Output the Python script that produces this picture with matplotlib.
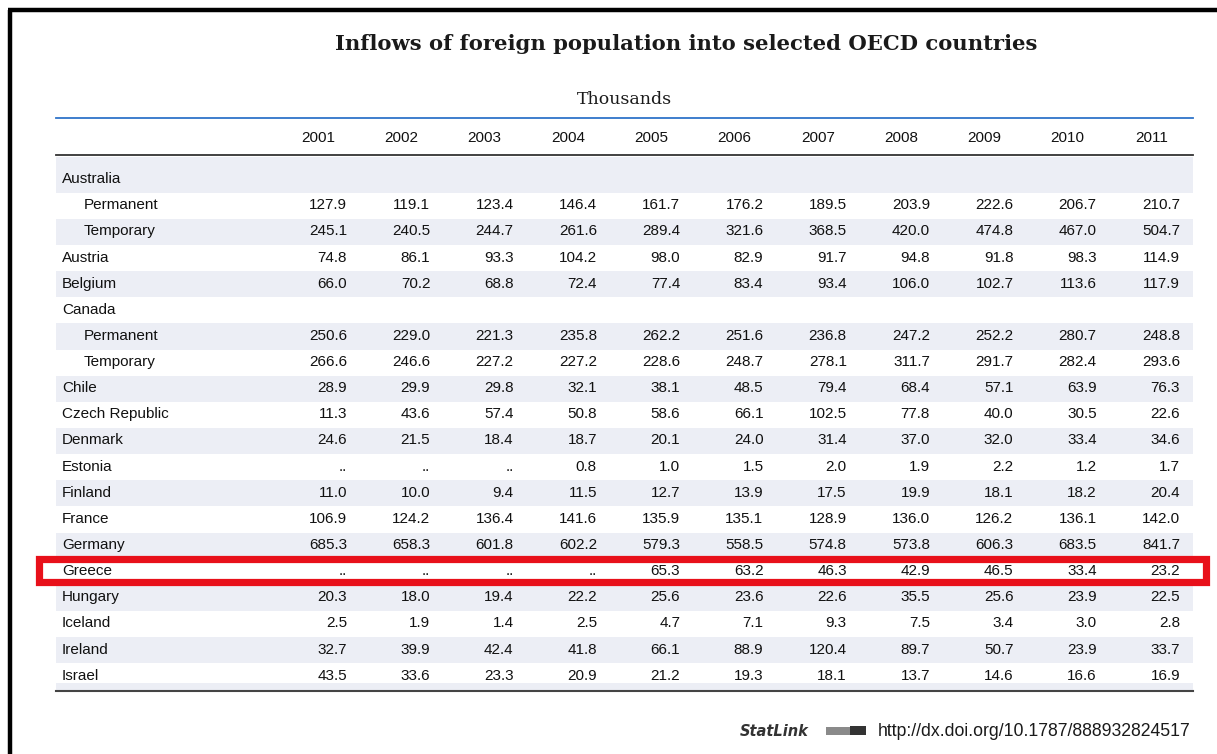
import matplotlib
matplotlib.use("Agg")
from matplotlib import pyplot as plt
from matplotlib.patches import Rectangle

# --- data (thousands) ---
years = [2001, 2002, 2003, 2004, 2005, 2006, 2007, 2008, 2009, 2010, 2011]

aus_perm = [127.9, 119.1, 123.4, 146.4, 161.7, 176.2, 189.5, 203.9, 222.6, 206.7, 210.7]
aus_temp = [245.1, 240.5, 244.7, 261.6, 289.4, 321.6, 368.5, 420.0, 474.8, 467.0, 504.7]
austria = [74.8, 86.1, 93.3, 104.2, 98.0, 82.9, 91.7, 94.8, 91.8, 98.3, 114.9]
belgium = [66.0, 70.2, 68.8, 72.4, 77.4, 83.4, 93.4, 106.0, 102.7, 113.6, 117.9]
can_perm = [250.6, 229.0, 221.3, 235.8, 262.2, 251.6, 236.8, 247.2, 252.2, 280.7, 248.8]
can_temp = [266.6, 246.6, 227.2, 227.2, 228.6, 248.7, 278.1, 311.7, 291.7, 282.4, 293.6]
chile = [28.9, 29.9, 29.8, 32.1, 38.1, 48.5, 79.4, 68.4, 57.1, 63.9, 76.3]
czech = [11.3, 43.6, 57.4, 50.8, 58.6, 66.1, 102.5, 77.8, 40.0, 30.5, 22.6]
denmark = [24.6, 21.5, 18.4, 18.7, 20.1, 24.0, 31.4, 37.0, 32.0, 33.4, 34.6]
estonia = [None, None, None, 0.8, 1.0, 1.5, 2.0, 1.9, 2.2, 1.2, 1.7]
finland = [11.0, 10.0, 9.4, 11.5, 12.7, 13.9, 17.5, 19.9, 18.1, 18.2, 20.4]
france = [106.9, 124.2, 136.4, 141.6, 135.9, 135.1, 128.9, 136.0, 126.2, 136.1, 142.0]
germany = [685.3, 658.3, 601.8, 602.2, 579.3, 558.5, 574.8, 573.8, 606.3, 683.5, 841.7]
greece = [None, None, None, None, 65.3, 63.2, 46.3, 42.9, 46.5, 33.4, 23.2]
hungary = [20.3, 18.0, 19.4, 22.2, 25.6, 23.6, 22.6, 35.5, 25.6, 23.9, 22.5]
iceland = [2.5, 1.9, 1.4, 2.5, 4.7, 7.1, 9.3, 7.5, 3.4, 3.0, 2.8]
ireland = [32.7, 39.9, 42.4, 41.8, 66.1, 88.9, 120.4, 89.7, 50.7, 23.9, 33.7]
israel = [43.5, 33.6, 23.3, 20.9, 21.2, 19.3, 18.1, 13.7, 14.6, 16.6, 16.9]

labels = ["Australia", "Permanent", "Temporary", "Austria", "Belgium", "Canada",
          "Permanent", "Temporary", "Chile", "Czech Republic", "Denmark", "Estonia",
          "Finland", "France", "Germany", "Greece", "Hungary", "Iceland", "Ireland", "Israel"]
indented = [False, True, True, False, False, False, True, True, False, False, False,
            False, False, False, False, False, False, False, False, False]
rows = [None, aus_perm, aus_temp, austria, belgium, None, can_perm, can_temp, chile,
        czech, denmark, estonia, finland, france, germany, greece, hungary, iceland,
        ireland, israel]
highlight = "Greece"

# --- layout (pixel coords) ---
W, H = 1217, 754
left, right = 56, 1193
row_top0, row_h = 166.7, 26.13
col_right0, col_step = 347, 83.3
shade = "#eceef5"
tfont = "Liberation Sans"
tsize = 11
tcol = "#111111"

fig = plt.figure(figsize=(W / 100, H / 100), dpi=100)
ax = fig.add_axes([0, 0, 1, 1])
ax.set_xlim(0, W)
ax.set_ylim(H, 0)
ax.axis("off")

# outer frame (cropped: only top + left visible)
ax.plot([10, 10], [10, H + 5], color="black", lw=3.2, solid_capstyle="butt")
ax.plot([8, W + 5], [10, 10], color="black", lw=3.2, solid_capstyle="butt")

ax.text(686, 44, "Inflows of foreign population into selected OECD countries",
        ha="center", va="center", fontsize=15.2, fontweight="bold",
        family="DejaVu Serif", color="#1a1a1a")
ax.text(624, 99, "Thousands", ha="center", va="center", fontsize=12.5,
        family="DejaVu Serif", color="#1a1a1a")

ax.plot([left, right], [118, 118], color="#2f74c9", lw=1.3)
for j, yr in enumerate(years):
    ax.text(col_right0 + j * col_step - 12, 137.5, str(yr), ha="right", va="center",
            fontsize=tsize, family=tfont, color=tcol)
ax.plot([left, right], [155, 155], color="#333333", lw=1.3)

# row bands
for i, lab in enumerate(labels):
    top = row_top0 + i * row_h
    if i % 2 == 0:
        y0 = 156.5 if i == 0 else top
        ax.add_patch(Rectangle((left, y0), right - left, top + row_h - y0,
                               facecolor=shade, edgecolor="none", zorder=0))
    yc = top + 12.5
    ax.text(84 if indented[i] else 62, yc, lab, ha="left", va="center",
            fontsize=tsize, family=tfont, color=tcol)
    vals = rows[i]
    if vals is None:
        continue
    for j, v in enumerate(vals):
        s = ".." if v is None else "{:.1f}".format(v)
        ax.text(col_right0 + j * col_step, yc, s, ha="right", va="center",
                fontsize=tsize, family=tfont, color=tcol)

ax.add_patch(Rectangle((left, 683), right - left, 7, facecolor=shade,
                       edgecolor="none", zorder=0))
ax.plot([left, right], [690.5, 690.5], color="#444444", lw=1.5)

# highlight box around the Greece row
hi = labels.index(highlight)
ht = row_top0 + hi * row_h
ax.add_patch(Rectangle((39, ht), 1166.5, 23.5, facecolor="none",
                       edgecolor="#e8101a", lw=5.2, zorder=5))

# StatLink footer
ax.text(740, 731, "StatLink", ha="left", va="center", fontsize=10.5,
        fontweight="bold", fontstyle="italic", family="DejaVu Sans", color="#333333")
ax.add_patch(Rectangle((826, 727), 40, 8, facecolor="#8a8a8a", edgecolor="none"))
ax.add_patch(Rectangle((850, 726), 16, 9, facecolor="#333333", edgecolor="none"))
ax.text(878, 731, "http://dx.doi.org/10.1787/888932824517", ha="left", va="center",
        fontsize=12.7, family=tfont, color="#1a1a1a")

fig.savefig("out.png", dpi=100)
